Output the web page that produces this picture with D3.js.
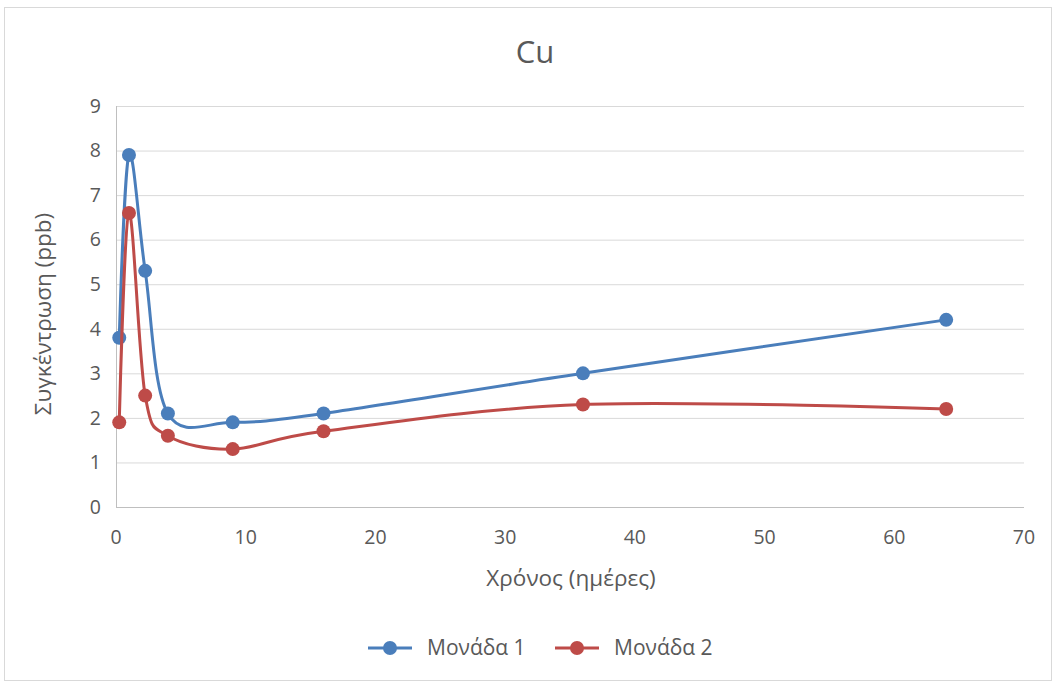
<!DOCTYPE html>
<html><head><meta charset="utf-8">
<script src="https://cdn.jsdelivr.net/npm/d3@7"></script>
<style>body{margin:0;background:#fff}svg text{font-family:"Open Sans","Noto Sans",sans-serif;fill:#595959}</style>
</head><body><svg id="c" width="1055" height="684"></svg>
<script>
const days = [0.25, 1, 2.25, 4, 9, 16, 36, 64];
const unit1 = [3.8, 7.9, 5.3, 2.1, 1.9, 2.1, 3.0, 4.2];
const unit2 = [1.9, 6.6, 2.5, 1.6, 1.3, 1.7, 2.3, 2.2];
const seriesNames = ["Μονάδα 1", "Μονάδα 2"];
const colors = ["#4a7ebb", "#be4b48"];
const xTicks = [0, 10, 20, 30, 40, 50, 60, 70];
const yTicks = [0, 1, 2, 3, 4, 5, 6, 7, 8, 9];

const svg = d3.select("#c");
svg.append("rect").attr("x",4.5).attr("y",7.5).attr("width",1047).attr("height",673).attr("fill","#fff").attr("stroke","#d9d9d9");
const x = d3.scaleLinear().domain([0,70]).range([116,1024]);
const y = d3.scaleLinear().domain([0,9]).range([507,106]);

const g = svg.append("g");
g.selectAll(".grid").data(yTicks.slice(1)).enter().append("line")
 .attr("x1",x(0)).attr("x2",x(70)).attr("y1",d=>y(d)+0.5).attr("y2",d=>y(d)+0.5)
 .attr("stroke","#d9d9d9").attr("stroke-width",1);
g.append("line").attr("x1",x(0)).attr("x2",x(70)).attr("y1",y(0)+0.5).attr("y2",y(0)+0.5).attr("stroke","#bfbfbf");
g.append("line").attr("x1",x(0)+0.5).attr("x2",x(0)+0.5).attr("y1",y(0)).attr("y2",y(9)).attr("stroke","#bfbfbf");

g.selectAll(".yt").data(yTicks).enter().append("text")
 .attr("x",x(0)-15).attr("y",d=>y(d)).attr("dy","0.35em").attr("text-anchor","end")
 .style("font-size","19.5px").text(d=>d);
g.selectAll(".xt").data(xTicks).enter().append("text")
 .attr("x",d=>x(d)).attr("y",y(0)+37).attr("text-anchor","middle")
 .style("font-size","19.5px").text(d=>d);

svg.append("text").attr("x",535).attr("y",63).attr("text-anchor","middle").style("font-size","31px").text("Cu");
svg.append("text").attr("x",571).attr("y",586).attr("text-anchor","middle").style("font-size","22.5px").text("Χρόνος (ημέρες)");
svg.append("text").attr("transform","translate(51,314) rotate(-90)").attr("text-anchor","middle").style("font-size","22.5px").text("Συγκέντρωση (ppb)");

const line = d3.line().x(d=>x(d[0])).y(d=>y(d[1])).curve(d3.curveCatmullRom.alpha(0));
[unit1, unit2].forEach((vals,i)=>{
  const pts = days.map((d,j)=>[d, vals[j]]);
  svg.append("path").datum(pts).attr("d",line).attr("fill","none").attr("stroke",colors[i]).attr("stroke-width",3).attr("stroke-linejoin","round");
  svg.selectAll(".m"+i).data(pts).enter().append("circle").attr("cx",d=>x(d[0])).attr("cy",d=>y(d[1])).attr("r",7).attr("fill",colors[i]);
});

const legX = [368, 555];
seriesNames.forEach((n,i)=>{
  const lx = legX[i], ly = 648;
  svg.append("line").attr("x1",lx).attr("x2",lx+44).attr("y1",ly).attr("y2",ly).attr("stroke",colors[i]).attr("stroke-width",3);
  svg.append("circle").attr("cx",lx+22).attr("cy",ly).attr("r",7).attr("fill",colors[i]);
  svg.append("text").attr("x",lx+59).attr("y",ly).attr("dy","0.35em").style("font-size","21px").text(n);
});
</script></body></html>
